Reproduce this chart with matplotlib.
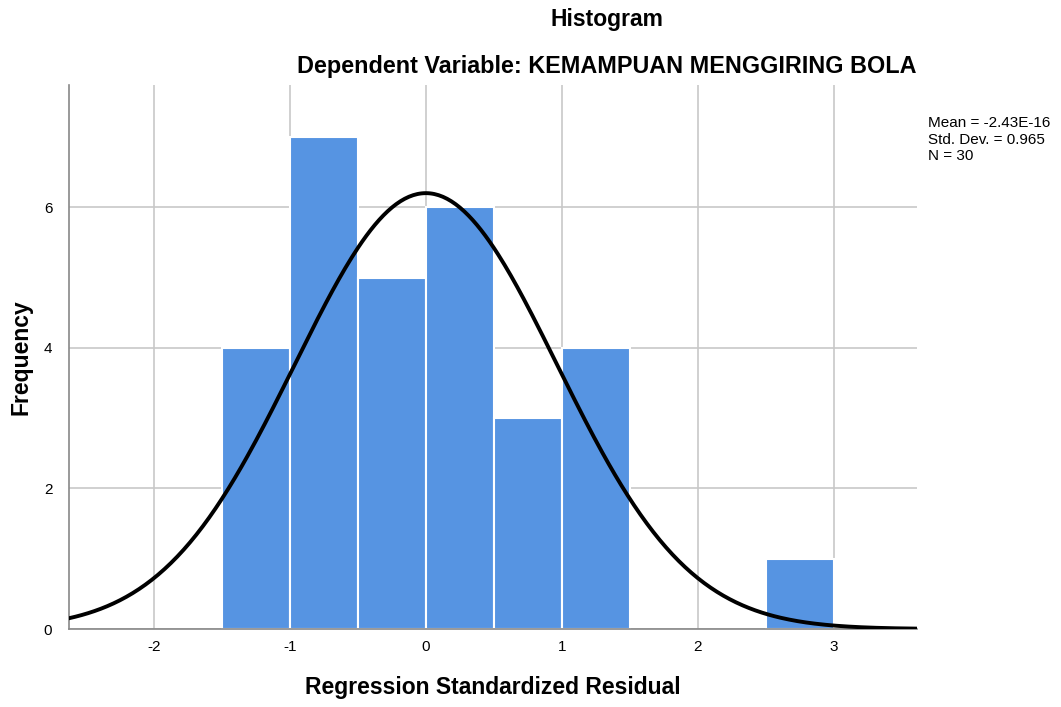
import numpy as np
import matplotlib.pyplot as plt

plt.rcParams['font.family'] = ['Liberation Sans', 'DejaVu Sans']
plt.rcParams['axes.unicode_minus'] = False

# histogram data
bin_left = [-1.5, -1.0, -0.5, 0.0, 0.5, 1.0, 2.5]
counts = [4, 7, 5, 6, 3, 4, 1]
bin_width = 0.5

# summary statistics shown on the chart
mean = -2.43e-16
std = 0.965
n = 30

fig = plt.figure(figsize=(10.61, 7.07), dpi=100)
ax = fig.add_axes([0.065, 0.1103, 0.799, 0.7695])

ax.bar(bin_left, counts, width=bin_width, align='edge',
       color='#5694E2', edgecolor='white', linewidth=1.5, zorder=2)

# normal curve scaled to counts
x = np.linspace(-2.625, 3.61, 400)
y = n * bin_width / (std * np.sqrt(2 * np.pi)) * np.exp(-0.5 * ((x - mean) / std) ** 2)
ax.plot(x, y, color='black', linewidth=2.8, zorder=3)

ax.set_xlim(-2.625, 3.61)
ax.set_ylim(0, 7.74)
ax.set_xticks([-2, -1, 0, 1, 2, 3])
ax.set_yticks([0, 2, 4, 6])
ax.grid(True, color='#c8c8c8', linewidth=1.2, zorder=0)
ax.set_axisbelow(True)
ax.tick_params(length=0, labelsize=11, pad=8)
ax.tick_params(axis='y', pad=12)

for s in ['top', 'right']:
    ax.spines[s].set_visible(False)
for s in ['left', 'bottom']:
    ax.spines[s].set_color('#888888')
    ax.spines[s].set_linewidth(1.2)

ax.set_xlabel('Regression Standardized Residual', fontsize=16.5, fontweight='bold', labelpad=16)
ax.set_ylabel('Frequency', fontsize=16.5, fontweight='bold', labelpad=8)

fig.text(0.572, 0.972, 'Histogram', ha='center', va='center', fontsize=16.5, fontweight='bold')
fig.text(0.572, 0.906, 'Dependent Variable: KEMAMPUAN MENGGIRING BOLA', ha='center', va='center',
         fontsize=16.8, fontweight='bold')

fig.text(0.875, 0.836, 'Mean = -2.43E-16\nStd. Dev. = 0.965\nN = 30', ha='left', va='top',
         fontsize=11, linespacing=1.25)

fig.savefig('out.png', dpi=100)
